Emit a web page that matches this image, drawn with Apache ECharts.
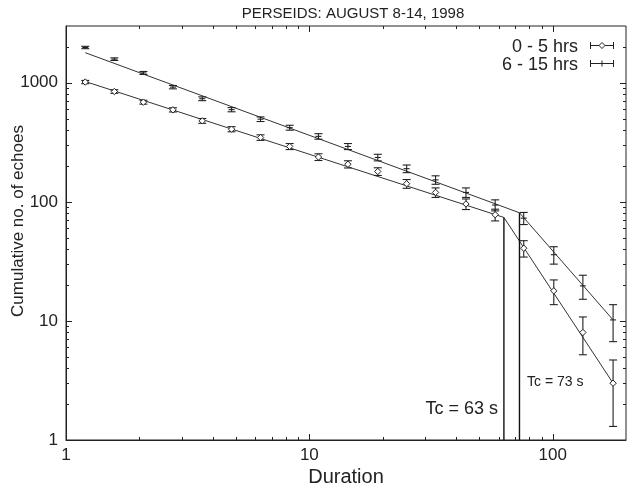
<!DOCTYPE html>
<html><head><meta charset="utf-8">
<script src="https://cdn.jsdelivr.net/npm/echarts@6/dist/echarts.min.js"></script>
<style>html,body{margin:0;padding:0;background:#fff}#c{width:628px;height:492px}</style>
</head><body><div id="c"></div>
<script>
// ---- data ----
const durations   = [1.2, 1.58, 2.08, 2.75, 3.63, 4.79, 6.3, 8.3, 10.9, 14.4, 19.1, 25.1, 33, 44, 58, 76, 101, 133, 177];
const counts0to5  = [1015, 845, 688, 593, 479, 408, 347, 292, 238, 207, 180, 142, 120, 96, 78, 40.8, 17.9, 8.0, 3.0];
const err0to5     = [32, 29, 26, 24, 22, 20, 18.6, 17, 15.4, 14.4, 13.4, 12, 11, 9.8, 8.8, 6.4, 4.2, 2.8, 1.7];
const counts6to15 = [1980, 1580, 1210, 920, 735, 595, 495, 420, 355, 292, 236, 190, 153, 120, 94, 73, 36, 19.7, 10.2];
const err6to15    = [45, 40, 35, 30, 27, 24, 22, 20, 19, 17, 15, 14, 12.5, 11, 10, 8.5, 6, 4.5, 3.5];
const fit0to5X  = [1.2, 63, 177];
const fit0to5Y  = [1025, 74, 3.0];
const fit6to15X = [1.2, 73, 177];
const fit6to15Y = [1790, 81, 10.2];
const tcValues = [63, 73];
const tcTops   = [74, 81];
const tcLabels = ['Tc = 63 s', 'Tc = 73 s'];
const xMajor = [1, 10, 100];
const yMajor = [1, 10, 100, 1000];
const minorMults = [2, 3, 4, 5, 6, 7, 8, 9];
const xMin = 1, xMax = 200, yMin = 1, yMax = 3000;

const FONT = '"Liberation Sans", Arial, Helvetica, sans-serif';
const INK = '#222';

function minorList(majors, maxV) {
  const out = [];
  majors.forEach(m => minorMults.forEach(k => { const v = m * k; if (v < maxV) out.push(v); }));
  return out;
}
const xMinor = minorList(xMajor, xMax);
const yMinor = minorList(yMajor, yMax);

const tickData = [];
xMajor.forEach(v => tickData.push([v, yMin, 0, 6]));
xMinor.forEach(v => tickData.push([v, yMin, 0, 3]));
yMajor.forEach(v => tickData.push([xMin, v, 1, 6]));
yMinor.forEach(v => tickData.push([xMin, v, 1, 3]));

function tickRender(params, api) {
  const cs = params.coordSys;
  const kind = api.value(2), len = api.value(3);
  const st = { stroke: INK, lineWidth: 1 };
  if (kind === 0) {
    const p = api.coord([api.value(0), yMin]);
    const x = Math.round(p[0]) + 0.5;
    return { type: 'group', children: [
      { type: 'line', shape: { x1: x, y1: cs.y + cs.height, x2: x, y2: cs.y + cs.height - len }, style: st },
      { type: 'line', shape: { x1: x, y1: cs.y, x2: x, y2: cs.y + len }, style: st }
    ]};
  } else {
    const p = api.coord([xMin, api.value(1)]);
    const y = Math.round(p[1]) + 0.5;
    return { type: 'group', children: [
      { type: 'line', shape: { x1: cs.x, y1: y, x2: cs.x + len, y2: y }, style: st },
      { type: 'line', shape: { x1: cs.x + cs.width, y1: y, x2: cs.x + cs.width - len, y2: y }, style: st }
    ]};
  }
}

function errRender(marker) {
  return function (params, api) {
    const x = api.value(0), y = api.value(1), e = api.value(2);
    const c = api.coord([x, y]);
    const hi = api.coord([x, y + e]);
    const lo = api.coord([x, Math.max(y - e, 1.0001)]);
    const st = { stroke: INK, lineWidth: 1.1, fill: null };
    const cap = 4;
    const ch = [
      { type: 'line', shape: { x1: c[0], y1: hi[1], x2: c[0], y2: lo[1] }, style: st },
      { type: 'line', shape: { x1: c[0] - cap, y1: hi[1], x2: c[0] + cap, y2: hi[1] }, style: st },
      { type: 'line', shape: { x1: c[0] - cap, y1: lo[1], x2: c[0] + cap, y2: lo[1] }, style: st }
    ];
    if (marker === 'diamond') {
      const r = 3.2;
      ch.push({ type: 'polygon', shape: { points: [[c[0], c[1] - r], [c[0] + r, c[1]], [c[0], c[1] + r], [c[0] - r, c[1]]] },
        style: { stroke: INK, lineWidth: 1, fill: '#fff' } });
    } else {
      ch.push({ type: 'line', shape: { x1: c[0] - 3, y1: c[1], x2: c[0] + 3, y2: c[1] }, style: st });
    }
    return { type: 'group', children: ch };
  };
}

const chart = echarts.init(document.getElementById('c'), null, { renderer: 'canvas' });

const logAxisCommon = {
  type: 'log', logBase: 10,
  axisLine: { show: true, lineStyle: { color: INK, width: 1 } },
  axisTick: { show: false },
  splitLine: { show: false },
  minorTick: { show: false },
  minorSplitLine: { show: false },
  nameMoveOverlap: false
};

const series = [
  { type: 'custom', name: 'ticks', renderItem: tickRender, data: tickData, clip: false, silent: true, z: 1 },
  { type: 'line', name: 'fit 0-5', data: fit0to5X.map((x, i) => [x, fit0to5Y[i]]), symbol: 'none',
    lineStyle: { color: '#333', width: 1 }, silent: true, z: 2 },
  { type: 'line', name: 'fit 6-15', data: fit6to15X.map((x, i) => [x, fit6to15Y[i]]), symbol: 'none',
    lineStyle: { color: '#333', width: 1 }, silent: true, z: 2 },
  { type: 'custom', name: '0 - 5 hrs', renderItem: errRender('diamond'),
    data: durations.map((d, i) => [d, counts0to5[i], err0to5[i]]), z: 4 },
  { type: 'custom', name: '6 - 15 hrs', renderItem: errRender('plus'),
    data: durations.map((d, i) => [d, counts6to15[i], err6to15[i]]), z: 4 }
];
tcValues.forEach((v, i) => {
  series.push({ type: 'line', name: tcLabels[i], data: [[v, tcTops[i]], [v, yMin]], symbol: 'none',
    lineStyle: { color: '#111', width: 1.4 }, silent: true, z: 3 });
});

chart.setOption({
  animation: false,
  backgroundColor: '#fff',
  textStyle: { fontFamily: FONT },
  grid: { left: 66, right: 2, top: 26, bottom: 52, outerBoundsMode: 'none', containLabel: false,
    show: true, borderColor: INK, borderWidth: 1, backgroundColor: 'transparent' },
  xAxis: Object.assign({}, logAxisCommon, {
    min: xMin, max: xMax,
    name: 'Duration', nameLocation: 'middle', nameGap: 27,
    nameTextStyle: { fontSize: 20, color: INK, fontFamily: FONT },
    axisLabel: { fontSize: 17, color: INK, margin: 7, fontFamily: FONT, showMaxLabel: false,
      formatter: v => (xMajor.indexOf(Math.round(v)) >= 0 ? String(Math.round(v)) : '') }
  }),
  yAxis: Object.assign({}, logAxisCommon, {
    min: yMin, max: yMax,
    axisLabel: { fontSize: 17, color: INK, margin: 8, fontFamily: FONT, showMaxLabel: false,
      formatter: v => (yMajor.indexOf(Math.round(v)) >= 0 ? String(Math.round(v)) : '') }
  }),
  series: series,
  graphic: [
    { type: 'text', x: 353, y: 14, style: { text: 'PERSEIDS: AUGUST 8-14, 1998', font: '15px ' + FONT, fill: INK, textAlign: 'center', textVerticalAlign: 'middle' } },
    { type: 'text', x: 18, y: 221, rotation: Math.PI / 2, style: { text: 'Cumulative no. of echoes', font: '17px ' + FONT, fill: INK, textAlign: 'center', textVerticalAlign: 'middle' } },
    { type: 'text', x: 578, y: 47, style: { text: '0 - 5 hrs', font: '18px ' + FONT, fill: INK, textAlign: 'right', textVerticalAlign: 'middle' } },
    { type: 'text', x: 578, y: 65, style: { text: '6 - 15 hrs', font: '18px ' + FONT, fill: INK, textAlign: 'right', textVerticalAlign: 'middle' } },
    { type: 'line', shape: { x1: 590, y1: 45.5, x2: 614, y2: 45.5 }, style: { stroke: INK, lineWidth: 1 } },
    { type: 'line', shape: { x1: 590.5, y1: 42, x2: 590.5, y2: 49 }, style: { stroke: INK, lineWidth: 1 } },
    { type: 'line', shape: { x1: 613.5, y1: 42, x2: 613.5, y2: 49 }, style: { stroke: INK, lineWidth: 1 } },
    { type: 'polygon', shape: { points: [[602, 42.5], [605, 45.5], [602, 48.5], [599, 45.5]] }, style: { stroke: INK, lineWidth: 1, fill: '#fff' } },
    { type: 'line', shape: { x1: 590, y1: 63.5, x2: 614, y2: 63.5 }, style: { stroke: INK, lineWidth: 1 } },
    { type: 'line', shape: { x1: 590.5, y1: 60, x2: 590.5, y2: 67 }, style: { stroke: INK, lineWidth: 1 } },
    { type: 'line', shape: { x1: 613.5, y1: 60, x2: 613.5, y2: 67 }, style: { stroke: INK, lineWidth: 1 } },
    { type: 'line', shape: { x1: 602, y1: 60.5, x2: 602, y2: 66.5 }, style: { stroke: INK, lineWidth: 1 } },
    { type: 'text', x: 498, y: 409, style: { text: tcLabels[0], font: '18px ' + FONT, fill: INK, textAlign: 'right', textVerticalAlign: 'middle' } },
    { type: 'text', x: 527, y: 382, style: { text: tcLabels[1], font: '14px ' + FONT, fill: INK, textAlign: 'left', textVerticalAlign: 'middle' } }
  ]
});
</script>
</body></html>
